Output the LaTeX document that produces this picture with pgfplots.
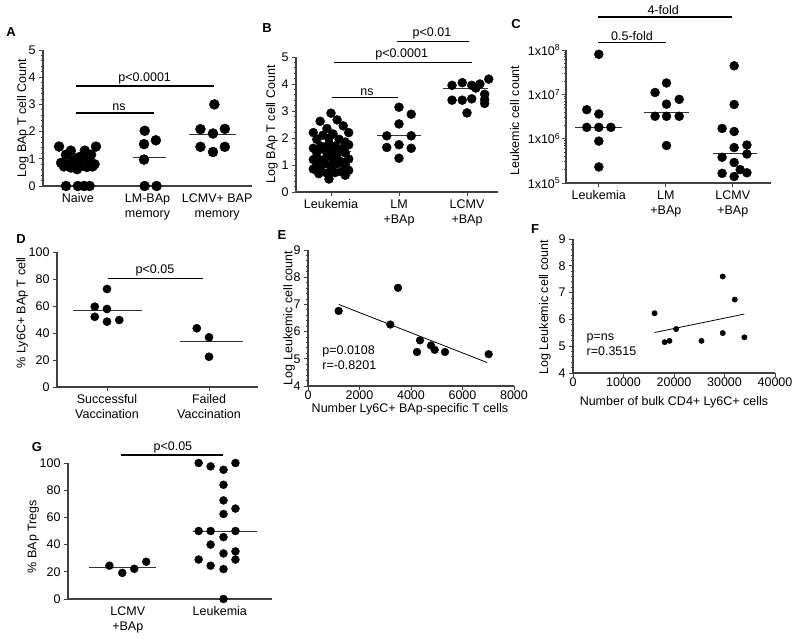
\documentclass[border=0pt]{standalone}
\usepackage{pgfplots}
\pgfplotsset{compat=1.18}
\usepackage{fontspec}
\setmainfont{Liberation Sans}
\pgfplotsset{
  panel/.style={
    scale only axis, axis lines=left, axis line style={-, line width=1.1pt, black!75},
    tick style={line width=0.9pt, black!75}, tick align=outside,
    major tick length=4pt, minor tick length=2pt, clip=false,
    /pgf/number format/assume math mode=true,
    /pgf/number format/1000 sep={},
    scaled ticks=false,
    tick label style={font=\fontsize{12.5}{12.5}\selectfont},
    xticklabel style={align=center, font=\fontsize{12.5}{15}\selectfont},
    label style={font=\fontsize{12.5}{14}\selectfont},
    ylabel style={anchor=center, rotate=0},
  },
  dots/.style={only marks, mark=*, mark size=#1, mark options={fill=black, draw=black}, black},
  med/.style={black!80, line width=1pt, no marks},
  sig/.style={black, line width=1.5pt, no marks},
}
\newcommand{\sigtxt}[1]{\fontsize{12.5}{12.5}\selectfont #1}
\begin{document}
\begin{tikzpicture}
\useasboundingbox (0pt,0pt) rectangle (800pt,640pt);

% ---------- A ----------
\begin{axis}[panel, at={(43pt,454pt)}, anchor=south west, width=209pt, height=136pt,
  xmin=-0.5, xmax=2.5, ymin=0, ymax=5, ytick={0,...,5}, minor y tick num=4,
  xtick={0,1,2}, xticklabels={Naive,{LM-BAp\\memory},{LCMV+ BAP\\memory}},
  major x tick style={draw=none},
  ylabel={Log BAp T cell Count}, ylabel style={at={(axis description cs:-0.096,0.5)}}]
\addplot[med] coordinates {(-0.28,0.8) (0.28,0.8)};
\addplot[med] coordinates {(0.79,1.05) (1.27,1.05)};
\addplot[med] coordinates {(1.59,1.9) (2.27,1.9)};
\addplot[dots=5pt] coordinates {(-0.27,1.45) (0.26,1.45) (-0.10,1.3) (0.10,1.3) (-0.17,1.15) (0.19,1.15)
 (-0.24,0.85) (-0.14,0.8) (-0.06,0.95) (0.01,1.05) (0.07,1.1) (0.16,0.9) (0.24,0.8) (-0.2,0.72)
 (-0.1,0.68) (-0.01,0.62) (0.06,0.75) (0.13,0.7) (0.21,0.72) (-0.03,0.8)
 (-0.17,0) (0,0) (0.09,0) (0.17,0)};
\addplot[dots=5pt] coordinates {(0.96,2.03) (1.12,1.68) (0.95,1.54) (0.95,0.97) (0.96,0) (1.13,0)};
\addplot[dots=5pt] coordinates {(1.96,3.0) (1.76,2.09) (1.94,1.93) (2.11,2.1) (1.76,1.44) (1.94,1.25) (2.11,1.44)};
\addplot[sig] coordinates {(-0.03,2.68) (1.1,2.68)};
\addplot[sig] coordinates {(-0.03,3.68) (1.96,3.68)};
\node[anchor=south, inner sep=2pt] at (axis cs:0.59,2.68) {\sigtxt{ns}};
\node[anchor=south, inner sep=2pt] at (axis cs:0.96,3.68) {\sigtxt{p<0.0001}};
\end{axis}

% ---------- B ----------
\begin{axis}[panel, at={(296pt,448pt)}, anchor=south west, width=202pt, height=135pt,
  xmin=-0.515, xmax=2.456, ymin=0, ymax=5, ytick={0,...,5}, minor y tick num=4,
  xtick={0,1,2}, xticklabels={Leukemia,{LM\\+BAp},{LCMV\\+BAp}},
  ylabel={Log BAp T cell Count}, ylabel style={at={(axis description cs:-0.119,0.5)}}]
\addplot[med] coordinates {(-0.3,1.5) (0.3,1.5)};
\addplot[med] coordinates {(0.67,2.1) (1.33,2.1)};
\addplot[med] coordinates {(1.65,3.82) (2.31,3.82)};
\addplot[dots=4.5pt] coordinates {(0,2.92) (-0.16,2.62) (0.09,2.67) (0.18,2.45) (-0.26,2.2) (0.26,2.2)
 (-0.06,2.35) (-0.12,2.1) (0.03,2.15) (0.12,1.95) (-0.21,1.95) (0.21,1.85) (-0.03,1.8) (-0.15,1.7)
 (0.06,1.7) (0.26,1.75) (-0.26,1.62) (0.15,1.6) (-0.09,1.55) (0,1.45) (-0.21,1.45) (0.21,1.45)
 (0.09,1.38) (-0.06,1.32) (-0.26,1.2) (0.26,1.22) (-0.15,1.18) (0.03,1.2) (0.15,1.12) (-0.09,1.05)
 (0.09,1.05) (-0.21,0.98) (0.21,1.0) (0,0.95) (-0.26,0.85) (-0.15,0.8) (0.15,0.75) (0.26,0.8)
 (-0.06,0.7) (0.06,0.72) (-0.18,0.68) (0.21,0.62) (-0.03,0.48) (0.03,1.6) (-0.03,2.0)};
\addplot[dots=4.5pt] coordinates {(1,3.14) (1.18,2.88) (1,2.52) (0.82,2.08) (1.18,2.08) (0.82,1.65) (1,1.75) (1.18,1.62) (1,1.25)};
\addplot[dots=4.5pt] coordinates {(1.78,3.95) (1.93,4.05) (2.07,3.95) (2.19,4.0) (2.32,4.18) (2.13,3.85)
 (1.78,3.4) (1.93,3.4) (2.07,3.45) (2.26,3.42) (2.26,3.28) (2.0,2.93) (2.26,3.62)};
\addplot[sig] coordinates {(0.014,3.5) (0.985,3.5)};
\addplot[sig] coordinates {(0.044,4.8) (2.07,4.8)};
\addplot[sig] coordinates {(0.97,5.58) (2.03,5.58)};
\node[anchor=south, inner sep=2pt] at (axis cs:0.53,3.5) {\sigtxt{ns}};
\node[anchor=south, inner sep=2pt] at (axis cs:1.04,4.8) {\sigtxt{p<0.0001}};
\node[anchor=south, inner sep=2pt] at (axis cs:1.485,5.58) {\sigtxt{p<0.01}};
\end{axis}

% ---------- C ----------
\begin{axis}[panel, at={(566pt,457pt)}, anchor=south west, width=205pt, height=133pt,
  xmin=-0.49, xmax=2.57, ymode=log, ymin=1e5, ymax=1e8,
  ytick={1e5,1e6,1e7,1e8},
  yticklabels={1x10\textsuperscript{5},1x10\textsuperscript{6},1x10\textsuperscript{7},1x10\textsuperscript{8}},
  yticklabel style={font=\fontsize{12.5}{12.5}\selectfont, inner sep=1.5pt},
  xtick={0,1,2}, xticklabels={Leukemia,{LM\\+BAp},{LCMV\\+BAp}},
  ylabel={Leukemic cell count}, ylabel style={at={(axis description cs:-0.25,0.47)}}]
\addplot[med] coordinates {(-0.35,1.8e6) (0.34,1.8e6)};
\addplot[med] coordinates {(0.67,3.8e6) (1.35,3.8e6)};
\addplot[med] coordinates {(1.70,4.7e5) (2.36,4.7e5)};
\addplot[dots=4.5pt] coordinates {(0,8e7) (-0.18,4.5e6) (0,3.6e6) (-0.18,1.8e6) (0,1.8e6) (0.18,1.8e6) (0,8.8e5) (0,2.3e5)};
\addplot[dots=4.5pt] coordinates {(1.01,1.8e7) (0.84,1.1e7) (1.2,7.7e6) (1.01,6e6) (0.84,3.2e6) (1.01,3.2e6) (1.2,3.2e6) (1.01,7e5)};
\addplot[dots=4.5pt] coordinates {(2.02,4.4e7) (2.02,5.9e6) (1.84,1.7e6) (2.02,1.45e6) (2.02,6.3e5) (2.21,7.2e5)
 (1.84,3.8e5) (2.21,4.5e5) (2.02,2.9e5) (1.84,1.65e5) (2.02,1.4e5) (2.11,2e5) (2.21,1.7e5)};
\addplot[sig] coordinates {(-0.012,1.46e8) (1.0,1.46e8)};
\addplot[sig] coordinates {(-0.012,5.6e8) (1.99,5.6e8)};
\node[anchor=south, inner sep=2pt] at (axis cs:0.495,1.46e8) {\sigtxt{0.5-fold}};
\node[anchor=south, inner sep=2pt] at (axis cs:0.96,5.6e8) {\sigtxt{4-fold}};
\end{axis}

% ---------- D ----------
\begin{axis}[panel, at={(57pt,253pt)}, anchor=south west, width=201pt, height=135pt,
  xmin=-0.49, xmax=1.48, ymin=0, ymax=100, ytick={0,20,...,100},
  xtick={0,1}, xticklabels={{Successful\\Vaccination},{Failed\\Vaccination}},
  ylabel={\% Ly6C+ BAp T cell}, ylabel style={at={(axis description cs:-0.174,0.55)}}]
\addplot[med] coordinates {(-0.33,57) (0.34,57)};
\addplot[med] coordinates {(0.72,34) (1.33,34)};
\addplot[dots=4.1pt] coordinates {(0,72.6) (-0.12,59.5) (0,57.8) (-0.12,52) (0,48.4) (0.12,49.6)};
\addplot[dots=4.1pt] coordinates {(0.88,43.5) (1,36.8) (1,22.4)};
\addplot[sig] coordinates {(0.01,80.5) (0.94,80.5)};
\node[anchor=south, inner sep=2pt] at (axis cs:0.47,80.5) {\sigtxt{p<0.05}};
\end{axis}

% ---------- E ----------
\begin{axis}[panel, at={(308pt,254pt)}, anchor=south west, width=206pt, height=136pt,
  xmin=0, xmax=8000, ymin=4, ymax=9, ytick={4,...,9}, minor y tick num=4,
  xtick={0,2000,...,8000}, xticklabel style={inner sep=1pt},
  xlabel={Number Ly6C+ BAp-specific T cells},
  xlabel style={at={(axis description cs:0.495,-0.17)}, anchor=center},
  ylabel={Log Leukemic cell count}, ylabel style={at={(axis description cs:-0.092,0.5)}}]
\addplot[black, line width=0.8pt, no marks] coordinates {(1190,7.0) (6964,4.86)};
\addplot[dots=3.9pt] coordinates {(1190,6.76) (3495,7.61) (3197,6.26) (4350,5.68) (4233,5.25) (4777,5.49) (4919,5.33) (5320,5.25) (7016,5.17)};
\node[anchor=west, align=left, font=\fontsize{12.5}{15}\selectfont] at (axis cs:420,5.05) {p=0.0108\\r=-0.8201};
\end{axis}

% ---------- F ----------
\begin{axis}[panel, at={(573pt,267pt)}, anchor=south west, width=202pt, height=134pt,
  xmin=0, xmax=40000, ymin=4, ymax=9, ytick={4,...,9}, minor y tick num=4,
  xtick={0,10000,...,40000}, xticklabel style={inner sep=1pt},
  xlabel={Number of bulk CD4+ Ly6C+ cells},
  xlabel style={at={(axis description cs:0.5,-0.216)}, anchor=center},
  ylabel={Log Leukemic cell count}, ylabel style={at={(axis description cs:-0.139,0.49)}}]
\addplot[black, line width=0.8pt, no marks] coordinates {(16150,5.51) (33940,6.2)};
\addplot[dots=2.7pt] coordinates {(16150,6.23) (18150,5.15) (19100,5.2) (20430,5.64) (25440,5.2) (29650,7.6) (32030,6.74) (29650,5.49) (33940,5.33)};
\node[anchor=west, align=left, font=\fontsize{12.5}{15}\selectfont] at (axis cs:2000,5.05) {p=ns\\r=0.3515};
\end{axis}

% ---------- G ----------
\begin{axis}[panel, at={(68pt,41pt)}, anchor=south west, width=204pt, height=136pt,
  xmin=-0.65, xmax=1.567, ymin=0, ymax=100, ytick={0,20,...,100},
  xtick={0,1}, xticklabels={{LCMV\\+BAp},Leukemia}, major x tick style={draw=none},
  ylabel={\% BAp Tregs}, ylabel style={at={(axis description cs:-0.17,0.46)}}]
\addplot[med] coordinates {(-0.42,23.5) (0.31,23.5)};
\addplot[med] coordinates {(0.71,50) (1.40,50)};
\addplot[dots=4pt] coordinates {(-0.2,24.5) (-0.06,19.2) (0.07,22.2) (0.2,27.4)};
\addplot[dots=4pt] coordinates {(0.77,100) (0.9,97.5) (1.04,95) (1.17,100) (1.04,84) (1.04,72.5) (1.17,66.5)
 (1.04,62.5) (0.77,50) (0.9,50) (1.17,50) (1.04,45.5) (0.9,40) (1.17,35) (1.04,33.5) (0.77,29) (1.17,29)
 (0.9,24.5) (1.04,22) (1.04,0)};
\addplot[sig] coordinates {(-0.07,106) (1.03,106)};
\node[anchor=south, inner sep=2pt] at (axis cs:0.49,106) {\sigtxt{p<0.05}};
\end{axis}

% panel letters
\begin{scope}[every node/.style={font=\fontsize{13}{13}\selectfont\bfseries}]
\node at (11pt,608pt) {A};
\node at (267pt,612pt) {B};
\node at (516pt,616pt) {C};
\node at (21pt,401pt) {D};
\node at (282pt,405pt) {E};
\node at (535pt,411pt) {F};
\node at (37pt,193pt) {G};
\end{scope}
\end{tikzpicture}
\end{document}
